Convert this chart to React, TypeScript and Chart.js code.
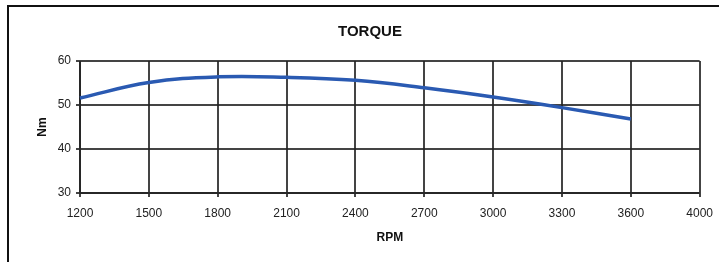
import React, { useEffect, useRef } from "react";
import { Chart, registerables } from "chart.js";

Chart.register(...registerables);

const rpmLabels = ["1200", "1500", "1800", "2100", "2400", "2700", "3000", "3300", "3600", "4000"];
const torqueNm = [51.6, 55.1, 56.4, 56.3, 55.6, 53.9, 51.8, 49.4, 46.8, null];
const yTicks = [30, 40, 50, 60];

const FONT = "'Liberation Sans', Arial, sans-serif";
const GRID = "rgba(35,35,35,0.85)";

export default function App() {
  const ref = useRef<HTMLCanvasElement | null>(null);

  useEffect(() => {
    if (!ref.current) return;
    const chart = new Chart(ref.current, {
      type: "line",
      data: {
        labels: rpmLabels,
        datasets: [
          {
            label: "Torque",
            data: torqueNm,
            borderColor: "#2a5ab2",
            borderWidth: 3.5,
            pointRadius: 0,
            tension: 0.4,
            fill: false,
            spanGaps: false,
          },
        ],
      },
      options: {
        responsive: false,
        animation: false,
        layout: { padding: { left: 33, right: 12, top: 0, bottom: 15 } },
        plugins: {
          legend: { display: false },
          tooltip: { enabled: false },
          title: {
            display: true,
            text: "TORQUE",
            color: "#111",
            font: { family: FONT, size: 15, weight: "bold" },
            padding: { top: 23, bottom: 20 },
          },
        },
        scales: {
          x: {
            type: "category",
            offset: false,
            grid: { color: GRID, lineWidth: 2, tickLength: 7, tickColor: GRID, tickBorderDash: [3, 30] },
            border: { color: GRID, width: 2 },
            ticks: { color: "#222", font: { family: FONT, size: 12 }, padding: 6, maxRotation: 0, autoSkip: false },
            title: { display: true, text: "RPM", color: "#111", font: { family: FONT, size: 12, weight: "bold" }, padding: { top: 2, bottom: 2 } },
            afterFit: (s: any) => { s.height = 54; },
          },
          y: {
            min: 30,
            max: 60,
            afterBuildTicks: (s: any) => { s.ticks = yTicks.map((v) => ({ value: v })); },
            grid: { color: GRID, lineWidth: 2, tickLength: 4, tickColor: GRID },
            border: { color: GRID, width: 2 },
            ticks: { color: "#222", font: { family: FONT, size: 12 }, padding: 5 },
            title: { display: true, text: "Nm", color: "#111", font: { family: FONT, size: 12, weight: "bold" }, padding: { top: 2, bottom: 2 } },
            afterFit: (s: any) => { s.width = 47; },
          },
        },
      },
    });
    return () => chart.destroy();
  }, []);

  return (
    <div style={{ position: "absolute", left: 0, top: 0, width: 719, height: 262, overflow: "hidden", background: "#fff" }}>
      <div
        style={{
          position: "absolute",
          left: 7,
          top: 5,
          width: 712,
          height: 257,
          borderTop: "2px solid #111",
          borderLeft: "2px solid #111",
          boxSizing: "border-box",
        }}
      />
      <canvas ref={ref} width={719} height={262} style={{ position: "absolute", left: 0, top: 0, width: 719, height: 262 }} />
    </div>
  );
}
